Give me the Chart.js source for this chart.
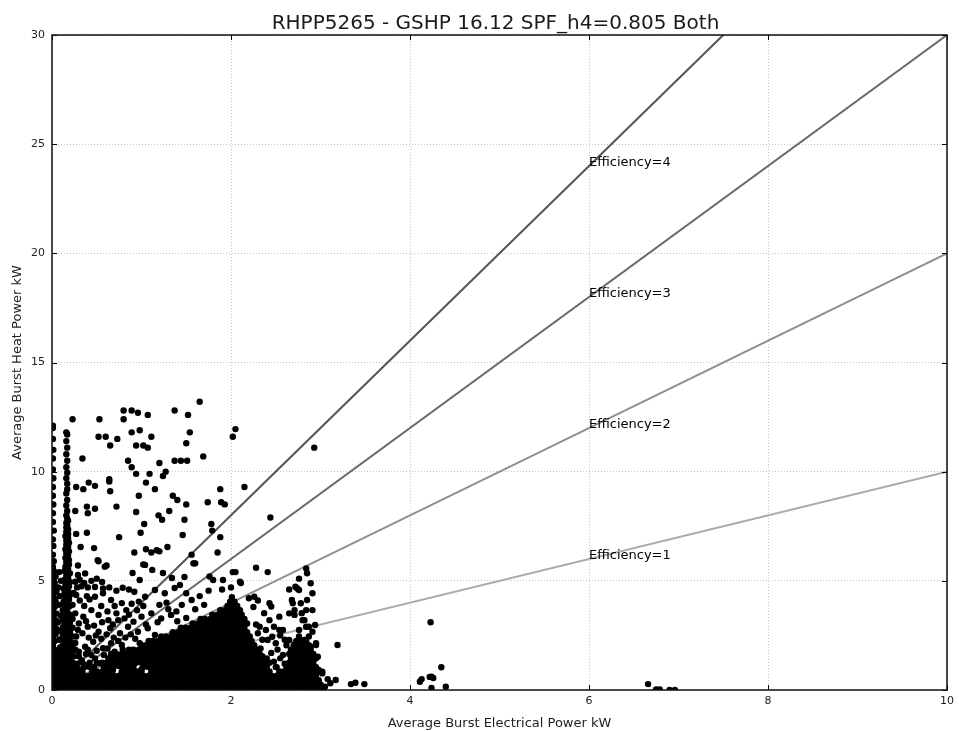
<!DOCTYPE html>
<html>
<head>
<meta charset="utf-8">
<script src="https://cdn.jsdelivr.net/npm/chart.js@4.4.1/dist/chart.umd.min.js"></script>
<style>
  body { margin: 0; background: #fff; }
  #wrap { width: 959px; height: 731px; position: relative; }
</style>
</head>
<body>
<div id="wrap"><canvas id="myChart"></canvas></div>
<script>
const chartTitle = 'RHPP5265 - GSHP 16.12 SPF_h4=0.805 Both';
const xLabel = 'Average Burst Electrical Power kW';
const yLabel = 'Average Burst Heat Power kW';
const xTicks = [0, 2, 4, 6, 8, 10];
const yTicks = [0, 5, 10, 15, 20, 25, 30];

// reference lines, heat = efficiency * electrical
const efficiencies = [1, 2, 3, 4];
const efficiencyLabels = ['Efficiency=1', 'Efficiency=2', 'Efficiency=3', 'Efficiency=4'];
const efficiencyEnds = [[10, 10], [10, 20], [10, 30], [7.5, 30]];
const labelAtX = 6;

// dense part of the cloud, read as rows: [heat, [electrical...]]
const floorRows = [
  [0.05, [0.01,0.06,0.12,0.17,0.23,0.28,0.34,0.39,0.45,0.5,0.56,0.61,0.67,0.72,0.78,0.83,0.89,0.94,1,1.05,1.11,1.16,1.22,1.27,1.33,1.38,1.44,1.49,1.55,1.6,1.66,1.71,1.77,1.82,1.88,1.93,1.99,2.04,2.1,2.15,2.21,2.26,2.32,2.37,2.43,2.48,2.54,2.59,2.65,2.7,2.76,2.81,2.87,2.92,2.98,3.03]],
  [0.25, [0.03,0.09,0.14,0.2,0.25,0.31,0.36,0.42,0.47,0.53,0.58,0.64,0.69,0.75,0.8,0.86,0.91,0.97,1.02,1.08,1.13,1.19,1.24,1.3,1.35,1.41,1.46,1.52,1.57,1.63,1.68,1.74,1.79,1.85,1.9,1.96,2.01,2.07,2.12,2.18,2.23,2.29,2.34,2.4,2.45,2.51,2.56,2.62,2.67,2.73,2.78,2.84,2.89,2.95,3.0]],
  [0.45, [0.01,0.06,0.12,0.17,0.23,0.28,0.34,0.39,0.45,0.5,0.56,0.61,0.67,0.72,0.78,0.83,0.89,0.94,1,1.05,1.11,1.16,1.22,1.27,1.33,1.38,1.44,1.49,1.55,1.6,1.66,1.71,1.77,1.82,1.88,1.93,1.99,2.04,2.1,2.15,2.21,2.26,2.32,2.37,2.43,2.48,2.54,2.59,2.65,2.7,2.76,2.81,2.87,2.92,2.98]],
  [0.65, [0.03,0.09,0.14,0.2,0.25,0.31,0.36,0.42,0.47,0.53,0.58,0.64,0.69,0.75,0.8,0.86,0.91,0.97,1.02,1.08,1.13,1.19,1.24,1.3,1.35,1.41,1.46,1.52,1.57,1.63,1.68,1.74,1.79,1.85,1.9,1.96,2.01,2.07,2.12,2.18,2.23,2.29,2.34,2.4,2.45,2.51,2.56,2.62,2.67,2.73,2.78,2.84,2.89,2.95]],
  [0.85, [0.01,0.06,0.12,0.17,0.23,0.28,0.34,0.45,0.5,0.56,0.61,0.67,0.78,0.83,0.89,0.94,1,1.11,1.16,1.22,1.27,1.33,1.38,1.44,1.49,1.55,1.6,1.66,1.71,1.77,1.82,1.88,1.93,1.99,2.04,2.1,2.15,2.21,2.26,2.32,2.37,2.43,2.54,2.59,2.65,2.7,2.76,2.81,2.87,2.92,2.98]],
  [1.05, [0.03,0.09,0.14,0.2,0.25,0.36,0.42,0.47,0.58,0.64,0.69,0.8,0.86,0.91,1.02,1.08,1.13,1.19,1.24,1.3,1.35,1.41,1.46,1.52,1.57,1.63,1.68,1.74,1.79,1.85,1.9,1.96,2.01,2.07,2.12,2.18,2.23,2.29,2.34,2.4,2.51,2.62,2.67,2.73,2.78,2.84,2.89,2.95]],
  [1.25, [0.01,0.06,0.12,0.17,0.23,0.34,0.5,0.56,0.61,0.67,0.72,0.78,0.83,0.89,0.94,1,1.05,1.11,1.16,1.22,1.27,1.33,1.38,1.44,1.49,1.55,1.6,1.66,1.71,1.77,1.82,1.88,1.93,1.99,2.04,2.1,2.15,2.21,2.26,2.32,2.37,2.43,2.65,2.7,2.76,2.81,2.87,2.92]],
  [1.45, [0.03,0.09,0.14,0.2,0.64,0.69,0.75,0.8,0.86,0.91,0.97,1.02,1.08,1.13,1.19,1.24,1.3,1.35,1.41,1.46,1.52,1.57,1.63,1.68,1.74,1.79,1.85,1.9,1.96,2.01,2.07,2.12,2.18,2.23,2.29,2.34,2.4,2.67,2.73,2.78,2.84,2.89,2.95]],
  [1.65, [0.01,0.06,0.12,0.17,0.23,0.72,0.78,0.83,0.89,0.94,1,1.05,1.11,1.16,1.22,1.27,1.33,1.38,1.44,1.49,1.55,1.6,1.66,1.71,1.77,1.82,1.88,1.93,1.99,2.04,2.1,2.15,2.21,2.26,2.32,2.65,2.7,2.76,2.81,2.87,2.92]],
  [1.85, [0.03,0.09,0.14,0.2,0.86,0.91,0.97,1.02,1.08,1.13,1.19,1.24,1.3,1.35,1.41,1.46,1.52,1.57,1.63,1.68,1.74,1.79,1.85,1.9,1.96,2.01,2.07,2.12,2.18,2.23,2.29,2.67,2.73,2.78,2.84,2.89]],
  [2.05, [0.01,0.12,0.17,0.23,1,1.05,1.11,1.16,1.22,1.27,1.33,1.38,1.44,1.49,1.55,1.6,1.66,1.71,1.77,1.82,1.88,1.93,1.99,2.04,2.1,2.15,2.21,2.26,2.7,2.76,2.81,2.87]],
  [2.25, [0.03,0.14,0.2,1.08,1.13,1.19,1.24,1.3,1.35,1.41,1.46,1.52,1.57,1.63,1.68,1.74,1.79,1.85,1.9,1.96,2.01,2.07,2.12,2.18,2.23,2.73,2.78,2.84]],
  [2.45, [0.12,0.17,0.23,1.22,1.27,1.33,1.38,1.44,1.49,1.55,1.6,1.66,1.71,1.77,1.82,1.88,1.93,1.99,2.04,2.1,2.15,2.21,2.76,2.87]],
  [2.65, [0.14,0.2,1.35,1.41,1.46,1.52,1.57,1.63,1.68,1.74,1.79,1.85,1.9,1.96,2.01,2.07,2.12,2.18]],
  [2.85, [0.12,0.17,0.23,1.44,1.49,1.55,1.6,1.66,1.71,1.77,1.82,1.88,1.93,1.99,2.04,2.1,2.15]],
  [3.05, [0.14,0.2,1.57,1.63,1.68,1.74,1.79,1.85,1.9,1.96,2.01,2.07,2.12,2.18]],
  [3.25, [0.12,0.17,0.23,1.66,1.71,1.77,1.82,1.88,1.93,1.99,2.04,2.1,2.15]],
  [3.45, [0.14,0.2,1.79,1.85,1.9,1.96,2.01,2.07,2.12]],
  [3.65, [0.12,0.17,1.88,1.93,1.99,2.04,2.1]],
  [3.85, [0.14,0.2,1.96,2.01,2.07]],
  [4.05, [0.17,1.99,2.04]],
  [4.25, [2.01]]
];

// column of bursts along the left axis
const edgeColumn = [
  [0.01,2.45],[0.04,2.55],[0.015,2.65],[0.05,2.8],[0.01,2.85],[0.03,3.0],[0.015,3.05],[0.04,3.2],[0.01,3.25],
  [0.02,3.45],[0.05,3.5],[0.01,3.65],[0.03,3.8],[0.015,3.85],[0.01,4.05],[0.04,4.1],[0.02,4.25],[0.01,4.45],
  [0.05,4.5],[0.02,4.65],[0.01,4.85],[0.03,4.9],[0.015,5.05],[0.04,5.2],[0.01,5.25],[0.02,5.45],[0.01,5.65],
  [0.02,5.9],[0.01,6.2],[0.015,6.6],[0.01,6.9],[0.02,7.3],[0.01,7.7],[0.01,8.1],[0.015,8.5],[0.01,8.9],
  [0.01,9.3],[0.015,9.7],[0.01,10.1],[0.01,10.6],[0.015,11.0],[0.01,11.5],[0.01,12.1],
  [0.08,2.3],[0.09,2.7],[0.07,3.1],[0.1,3.4],[0.08,3.9],[0.09,4.3],[0.07,4.7],[0.1,5.0],[0.08,5.4],[0.09,1.95]
];

// spike of bursts near 0.17 kW
const spikePoints = [
  [0.13,4.05],[0.19,4.15],[0.15,4.25],[0.2,4.35],[0.14,4.45],[0.18,4.55],[0.13,4.65],[0.19,4.75],[0.15,4.85],
  [0.2,4.95],[0.14,5.05],[0.18,5.15],[0.16,5.25],[0.2,5.35],[0.14,5.45],[0.18,5.55],[0.15,5.65],[0.19,5.75],
  [0.16,5.85],[0.19,5.95],[0.15,6.05],[0.18,6.15],[0.16,6.25],[0.19,6.35],[0.15,6.45],[0.18,6.55],[0.16,6.65],
  [0.19,6.75],[0.16,6.85],[0.18,6.95],[0.15,7.05],[0.18,7.15],[0.16,7.25],[0.18,7.35],[0.16,7.45],[0.17,7.55],
  [0.16,7.65],[0.18,7.75],[0.17,7.85],[0.16,8.0],[0.17,8.2],[0.16,8.45],[0.17,8.7],[0.16,9.0],[0.17,9.2],
  [0.17,9.45],[0.16,9.7],[0.17,9.95],[0.16,10.2],[0.17,10.5],[0.16,10.8],[0.17,11.1],[0.16,11.4],[0.17,11.7]
];

// scattered bursts between the spike and the main band
const midScatter = [
  [0.29,5.7],[0.52,5.9],[0.59,5.65],[0.29,5.27],[0.37,5.34],[0.26,4.96],[0.31,5.05],[0.36,4.9],[0.44,5.0],
  [0.5,5.1],[0.56,4.95],[0.28,4.7],[0.33,4.75],[0.4,4.7],[0.48,4.72],[0.57,4.65],[0.64,4.7],[0.72,4.55],
  [0.79,4.68],[0.86,4.6],[0.9,5.36],[0.98,5.04],[1.04,5.73],[1.12,5.5],[1.24,5.36],[1.34,5.13],[1.43,4.81],
  [1.48,5.18],[0.48,4.27],[0.57,4.43],[0.66,4.12],[0.78,3.98],[0.83,3.66],[0.92,4.5],[1.04,4.27],[1.15,4.58],
  [1.26,4.43],[1.37,4.67],[1.5,4.43],[1.56,4.12],[0.26,3.51],[0.35,3.36],[0.44,3.66],[0.52,3.44],[0.63,3.2],
  [0.72,3.51],[0.81,3.28],[0.91,3.13],[1.0,3.36],[1.11,3.51],[1.22,3.28],[1.33,3.44],[0.29,2.75],[0.4,2.9],
  [0.52,2.67],[0.65,2.83],[0.76,2.6],[0.85,2.9],[0.96,2.67],[1.07,2.83],[1.15,2.52],[0.26,2.15],[0.37,1.98],
  [0.46,2.21],[0.57,1.91],[0.66,2.14],[0.78,2.06],[0.89,1.83],[0.98,2.14],[0.24,1.53],[0.33,1.37],[0.44,1.6],
  [0.53,1.22],[0.63,1.45],[0.72,1.3],[0.81,1.53],[0.3,1.75],[0.5,1.8],[0.7,1.75],[0.42,1.25],[0.28,1.2],
  [1.2,3.9],[1.3,3.7],[1.45,3.9],[1.6,3.7],[1.7,3.9],[1.65,4.3],[1.75,4.55],[1.8,5.04],[1.91,5.04],[1.76,5.2],
  [1.9,4.6],[2.0,4.7],[1.28,4.0],[1.39,3.6],[1.5,3.3],[1.18,3.1],[1.05,3.0],[1.4,3.15],[1.6,5.8],[1.59,5.8],
  [0.27,2.45],[0.34,2.6],[0.41,2.4],[0.49,2.5],[0.55,2.35],[0.61,2.55],[0.69,2.4],[0.74,2.25],[0.82,2.4],
  [0.88,2.55],[0.93,2.35],[0.3,3.05],[0.38,3.15],[0.47,2.95],[0.56,3.1],[0.68,3.0],[0.74,3.2],[0.86,3.45],
  [0.95,3.65],[1.02,3.85],[0.23,3.9],[0.31,4.1],[0.39,4.3],[0.27,4.35],[0.36,3.85],[0.55,3.85],[0.62,3.6],
  [0.7,3.85],[0.89,3.95],[0.97,4.05],[0.24,4.45],[0.42,4.15],[0.3,1.55],[0.38,1.65],[0.48,1.45],[0.58,1.6],
  [0.66,1.65],[0.36,1.15],[0.47,1.05],[0.6,1.2],[0.75,1.1],[0.92,1.25],[0.3,0.95],[0.68,0.9],[1.0,0.95],
  [0.26,1.85],[0.4,1.85],[0.62,1.9],[0.79,1.85]
];

// right of the main band and the 2.8 kW cluster
const rightSide = [
  [2.26,4.27],[2.43,3.97],[2.45,3.82],[2.54,3.36],[2.65,3.51],[2.32,2.9],[2.39,2.75],[2.46,2.44],[2.54,2.75],
  [2.5,2.14],[2.41,2.29],[2.37,3.52],[2.43,3.2],[2.48,2.9],[2.58,2.75],[2.3,2.6],[2.35,2.3],[2.55,2.5],
  [2.6,2.3],[2.33,1.9],[2.45,1.7],[2.52,1.85],[2.58,1.6],[2.35,1.55],[2.62,2.05],[2.28,3.0],[2.25,3.8],
  [2.2,4.2],[2.3,4.1],[2.84,5.57],[2.85,5.35],[2.76,5.1],[2.72,4.73],[2.76,4.58],[2.89,4.89],[2.91,4.43],
  [2.74,4.65],[2.65,4.6],[2.69,3.97],[2.78,3.97],[2.85,4.12],[2.91,3.66],[2.71,3.44],[2.8,3.2],[2.84,2.9],
  [2.76,2.75],[2.91,2.67],[2.65,2.29],[2.72,2.14],[2.82,2.29],[2.89,1.98],[2.95,2.14],[2.94,2.98],[2.87,2.9],
  [2.68,4.12],[2.71,3.66],[2.79,3.52],[2.84,3.66],[2.82,3.2],[2.95,2.06],[2.97,1.52],[2.98,0.92],[3.02,0.76],
  [2.48,1.3],[2.55,1.45],[2.6,1.2],[2.5,1.05]
];

// sparse high bursts
const upperScatter = [
  [1.65,13.2],[1.37,12.8],[0.8,12.8],[0.8,12.4],[0.89,12.8],[0.96,12.7],[1.07,12.6],[0.53,12.4],[0.23,12.4],
  [1.52,12.6],[0.01,12.0],[0.16,11.8],[0.52,11.6],[0.6,11.6],[0.65,11.2],[0.73,11.5],[0.89,11.8],[0.98,11.9],
  [1.11,11.6],[0.94,11.2],[1.02,11.2],[1.07,11.1],[1.54,11.8],[1.5,11.3],[1.69,10.7],[0.34,10.6],[0.85,10.5],
  [1.2,10.4],[1.24,9.8],[1.37,10.5],[1.44,10.5],[1.51,10.5],[0.89,10.2],[0.94,9.9],[1.09,9.9],[1.27,10.0],
  [2.02,11.6],[2.05,11.95],[2.93,11.1],[0.27,9.3],[0.35,9.2],[0.41,9.5],[0.48,9.35],[0.64,9.65],[0.64,9.55],
  [0.65,9.1],[1.05,9.5],[1.15,9.2],[0.97,8.9],[1.35,8.9],[1.4,8.7],[1.88,9.2],[1.89,8.6],[1.93,8.5],[2.15,9.3],
  [1.74,8.6],[1.5,8.5],[0.72,8.4],[0.26,8.2],[0.39,8.4],[0.48,8.3],[0.4,8.1],[0.94,8.15],[1.19,8.0],[1.23,7.8],
  [1.31,8.2],[1.48,7.8],[1.03,7.6],[2.44,7.9],[1.78,7.6],[1.79,7.3],[1.88,7.0],[0.27,7.15],[0.39,7.2],[0.75,7.0],
  [0.99,7.2],[1.46,7.1],[0.32,6.55],[0.47,6.5],[0.92,6.3],[1.05,6.45],[1.11,6.3],[1.17,6.4],[1.2,6.35],[1.29,6.55],
  [1.85,6.3],[0.51,5.95],[0.61,5.7],[1.02,5.75],[1.56,6.2],[1.58,5.8],[2.28,5.6],[2.41,5.4],[2.02,5.4],[2.05,5.4],
  [2.1,4.96],[2.11,4.9]
];

// isolated bursts at higher electrical power
const farOutliers = [
  [3.19,2.06],[3.02,0.84],[3.17,0.46],[3.11,0.31],[3.34,0.27],[3.39,0.33],[3.49,0.27],[3.05,0.15],[3.08,0.5],
  [4.23,3.1],[4.35,1.04],[4.24,0.61],[4.26,0.55],[4.22,0.6],[4.11,0.38],[4.13,0.5],[4.24,0.09],[4.4,0.15],
  [6.66,0.27],[6.75,0.03],[6.79,0.03],[6.9,0.0],[6.96,0.0]
];

const points = [];
floorRows.forEach(([heat, elecs]) => elecs.forEach(e => points.push({ x: e, y: heat })));
[edgeColumn, spikePoints, midScatter, rightSide, upperScatter, farOutliers]
  .forEach(group => group.forEach(([e, h]) => points.push({ x: e, y: h })));

const lineGreys = ['#ababab', '#8e8e8e', '#6b6b6b', '#545454'];
const lineSets = efficiencies.map((eff, i) => ({
  label: efficiencyLabels[i],
  data: [{ x: 0, y: 0 }, { x: efficiencyEnds[i][0], y: efficiencyEnds[i][1] }],
  showLine: true,
  borderColor: lineGreys[i],
  borderWidth: 2,
  pointRadius: 0,
  order: 2
}));

const FONT = '"DejaVu Sans", sans-serif';

const decorations = {
  id: 'decorations',
  afterDatasetsDraw(chart) {
    const { ctx, scales: { x, y } } = chart;
    ctx.save();
    ctx.font = '13px ' + FONT;
    ctx.fillStyle = '#000';
    ctx.textAlign = 'left';
    ctx.textBaseline = 'alphabetic';
    efficiencies.forEach((eff, i) => {
      ctx.fillText(efficiencyLabels[i], x.getPixelForValue(labelAtX), y.getPixelForValue(eff * labelAtX));
    });
    ctx.restore();
  },
  afterDraw(chart) {
    const { ctx, chartArea: a, scales: { x, y } } = chart;
    ctx.save();
    ctx.strokeStyle = '#000';
    ctx.lineWidth = 1;
    ctx.beginPath();
    xTicks.forEach(v => {
      const px = Math.round(x.getPixelForValue(v)) + 0.5;
      ctx.moveTo(px, a.bottom); ctx.lineTo(px, a.bottom - 5);
      ctx.moveTo(px, a.top); ctx.lineTo(px, a.top + 5);
    });
    yTicks.forEach(v => {
      const py = Math.round(y.getPixelForValue(v)) + 0.5;
      ctx.moveTo(a.left, py); ctx.lineTo(a.left + 5, py);
      ctx.moveTo(a.right, py); ctx.lineTo(a.right - 5, py);
    });
    ctx.stroke();
    ctx.lineWidth = 1.5;
    ctx.strokeStyle = '#111';
    ctx.strokeRect(a.left, a.top, a.right - a.left, a.bottom - a.top);
    ctx.font = '20px ' + FONT;
    ctx.fillStyle = '#1a1a1a';
    ctx.textAlign = 'center';
    ctx.textBaseline = 'alphabetic';
    ctx.fillText(chartTitle, (a.left + a.right) / 2 - 4, 29);
    ctx.restore();
  }
};

new Chart('myChart', {
  type: 'scatter',
  data: {
    datasets: [
      ...lineSets,
      {
        label: 'bursts',
        data: points,
        pointRadius: 3.2,
        pointHoverRadius: 3.2,
        pointBackgroundColor: '#000',
        pointBorderWidth: 0,
        order: 1
      }
    ]
  },
  options: {
    responsive: true,
    maintainAspectRatio: false,
    animation: false,
    events: [],
    layout: { padding: { top: 35, right: 9, left: 0, bottom: 0 } },
    plugins: { legend: { display: false }, tooltip: { enabled: false } },
    scales: {
      x: {
        type: 'linear',
        min: 0,
        max: 10,
        afterBuildTicks: s => { s.ticks = xTicks.map(v => ({ value: v })); },
        afterFit: s => { s.height = 41; },
        ticks: { font: { family: FONT, size: 11 }, color: '#222', padding: 5, maxRotation: 0 },
        grid: { color: '#c4c4c4', lineWidth: 1, drawTicks: false },
        border: { display: false, dash: [1, 2] },
        title: { display: true, text: xLabel, font: { family: FONT, size: 13 }, color: '#222', padding: { top: 6, bottom: 0 } }
      },
      y: {
        type: 'linear',
        min: 0,
        max: 30,
        afterBuildTicks: s => { s.ticks = yTicks.map(v => ({ value: v })); },
        afterFit: s => { s.width = 52; },
        ticks: { font: { family: FONT, size: 11 }, color: '#222', padding: 7 },
        grid: { color: '#c4c4c4', lineWidth: 1, drawTicks: false },
        border: { display: false, dash: [1, 2] },
        title: { display: true, text: yLabel, font: { family: FONT, size: 13 }, color: '#222', padding: { top: 10, bottom: 0 } }
      }
    }
  },
  plugins: [decorations]
});
</script>
</body>
</html>
